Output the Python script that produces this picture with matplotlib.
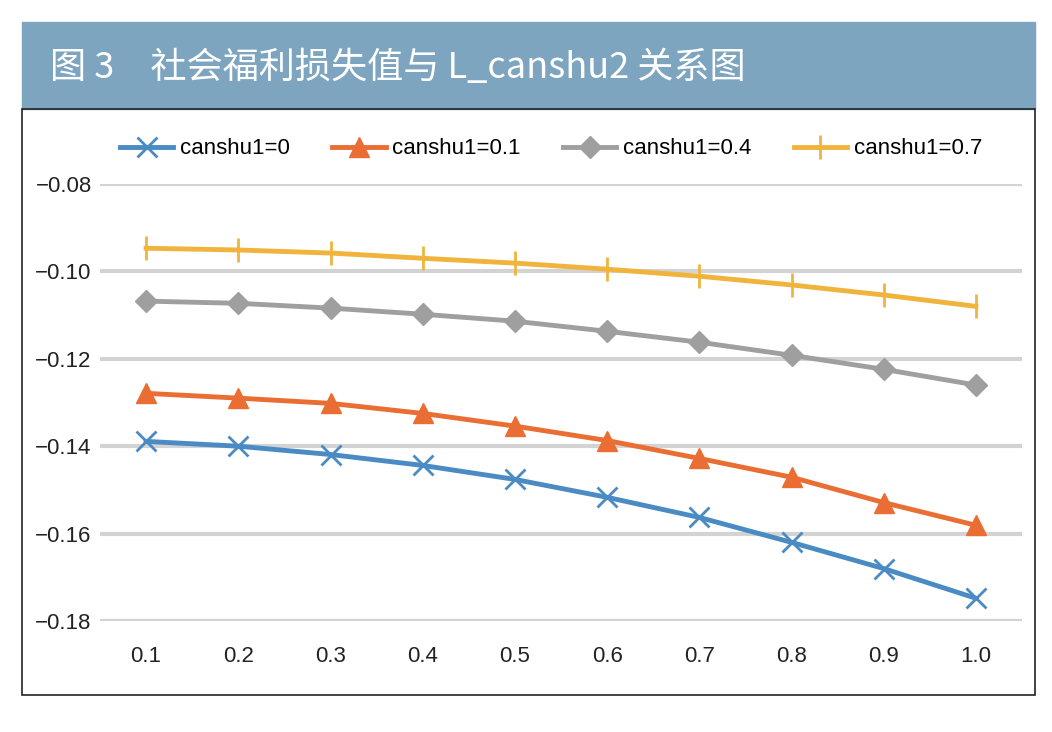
import matplotlib.pyplot as plt
from matplotlib.patches import Rectangle

plt.rcParams['font.family'] = ['Liberation Sans', 'Noto Sans CJK SC', 'DejaVu Sans']

# data
x_labels = ['0.1', '0.2', '0.3', '0.4', '0.5', '0.6', '0.7', '0.8', '0.9', '1.0']
c0 = [-0.1389, -0.1400, -0.1419, -0.1444, -0.1476, -0.1517, -0.1563, -0.1620, -0.1680, -0.1748]
c01 = [-0.1279, -0.1290, -0.1302, -0.1325, -0.1354, -0.1387, -0.1428, -0.1471, -0.1529, -0.1581]
c04 = [-0.1068, -0.1073, -0.1084, -0.1098, -0.1114, -0.1137, -0.1162, -0.1192, -0.1224, -0.1260]
c07 = [-0.0947, -0.0951, -0.0958, -0.0970, -0.0981, -0.0995, -0.1011, -0.1031, -0.1054, -0.1080]
y_ticks = [-0.08, -0.10, -0.12, -0.14, -0.16, -0.18]

W, H = 1052, 732
fig = plt.figure(figsize=(W / 100, H / 100), dpi=100)

# header band and frame
fig.patches.append(Rectangle((22 / W, 1 - 109 / H), (1035 - 22) / W, 87 / H,
                             transform=fig.transFigure, color='#7ea5c0', zorder=0))
fig.patches.append(Rectangle((22 / W, 1 - 695 / H), (1035 - 22) / W, (695 - 109) / H,
                             transform=fig.transFigure, fill=False, ec='#222222', lw=1.2, zorder=0))
fig.text(50 / W, 1 - 68 / H, '图 3　社会福利损失值与 L_canshu2 关系图', color='white',
         fontsize=26, va='center', ha='left', family=['Noto Sans CJK SC', 'DejaVu Sans'])

ax = fig.add_axes([100 / W, 1 - 621 / H, 922 / W, (621 - 184) / H])
xs = list(range(len(x_labels)))

ax.plot(xs, c0, color='#4a8bc4', lw=3.5, marker='x', ms=15, mew=2, label='canshu1=0', zorder=3)
ax.plot(xs, c01, color='#ea6d33', lw=3.5, marker='^', ms=14, label='canshu1=0.1', zorder=4)
ax.plot(xs, c04, color='#9f9f9f', lw=3.5, marker='D', ms=11, label='canshu1=0.4', zorder=5)
ax.plot(xs, c07, color='#f0b43c', lw=3.5, marker='|', ms=17, mew=2, label='canshu1=0.7', zorder=6)

ax.set_xlim(-0.5, len(x_labels) - 0.5)
ax.set_ylim(-0.18, -0.08)
ax.set_yticks(y_ticks)
ax.set_yticklabels(['\u22120.%02d' % round(-v * 100) for v in y_ticks])
ax.set_xticks(xs)
ax.set_xticklabels(x_labels)
ax.tick_params(length=0, labelsize=16, colors='#222222')
ax.tick_params(axis='x', pad=18)
ax.tick_params(axis='y', pad=6)
for s in ax.spines.values():
    s.set_visible(False)
ax.grid(axis='y', color='#d3d3d3', lw=3)
ax.set_axisbelow(True)

fig.legend(loc='center', bbox_to_anchor=(551 / W, 1 - 149 / H), ncol=4, frameon=False,
           fontsize=16, handlelength=2.4, handletextpad=0.3, columnspacing=1.9)

fig.savefig('out.png', dpi=100)
